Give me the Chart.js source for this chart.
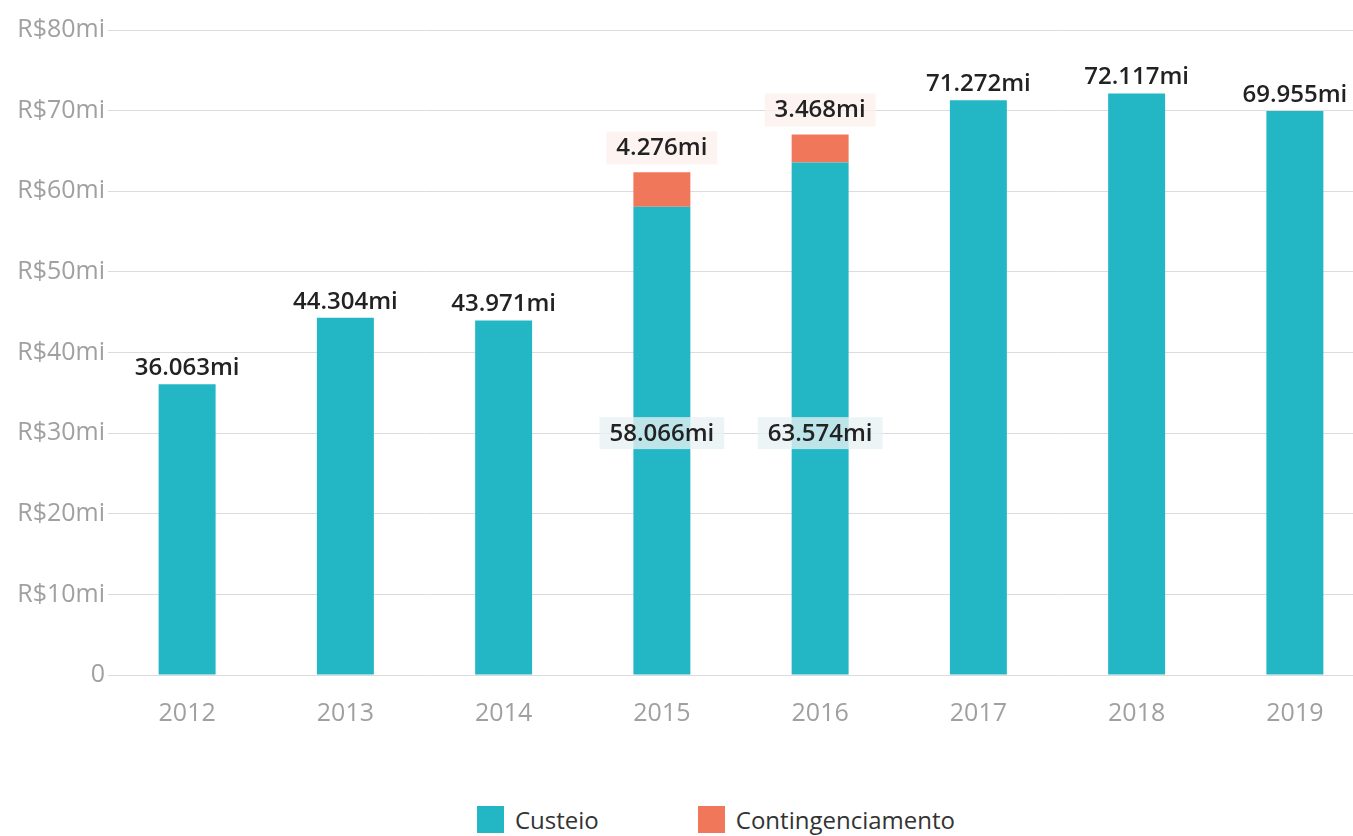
<!DOCTYPE html>
<html>
<head>
<meta charset="utf-8">
<script src="https://cdn.jsdelivr.net/npm/chart.js@4"></script>
<style>
  html, body { margin: 0; padding: 0; background: #fff; overflow: hidden; }
  #wrap { position: relative; width: 1374px; height: 760px; }
  #legend { position: absolute; top: 803px; left: 477px; display: flex; font-family: "Open Sans", sans-serif; font-size: 24px; color: #333; }
  .item { display: flex; align-items: center; margin-right: 99px; }
  .box { width: 27px; height: 27px; margin-right: 11px; }
</style>
</head>
<body>
<div id="wrap"><canvas id="chart"></canvas></div>
<div id="legend"></div>
<script>
const years = ["2012", "2013", "2014", "2015", "2016", "2017", "2018", "2019"];
const custeio = [36.063, 44.304, 43.971, 58.066, 63.574, 71.272, 72.117, 69.955];
const contingenciamento = [0, 0, 0, 4.276, 3.468, 0, 0, 0];
const seriesNames = ["Custeio", "Contingenciamento"];
const colors = ["#23b7c5", "#f07759"];

function fmt(v) {
  return v.toFixed(3) + "mi";
}

// labels on the bars
const barLabels = {
  id: "barLabels",
  afterDatasetsDraw(chart) {
    const ctx = chart.ctx;
    const yScale = chart.scales.y;
    const m0 = chart.getDatasetMeta(0).data;
    const m1 = chart.getDatasetMeta(1).data;
    ctx.save();
    ctx.font = "600 24px 'Open Sans'";
    ctx.textAlign = "center";
    ctx.textBaseline = "middle";
    custeio.forEach((v, i) => {
      const bar = m0[i];
      if (contingenciamento[i] > 0) {
        // custeio label boxed in the middle
        let txt = fmt(v);
        let w = ctx.measureText(txt).width + 20;
        let y = yScale.getPixelForValue(30);
        ctx.fillStyle = "rgba(232,241,244,0.78)";
        ctx.fillRect(bar.x - w / 2, y - 16, w, 32);
        ctx.fillStyle = "#222";
        ctx.fillText(txt, bar.x, y + 1);

        let top = m1[i];
        txt = fmt(contingenciamento[i]);
        w = ctx.measureText(txt).width + 20;
        let by = top.y - 8 - 33;
        ctx.fillStyle = "rgba(252,241,237,0.8)";
        ctx.fillRect(top.x - w / 2, by, w, 33);
        ctx.fillStyle = "#222";
        ctx.fillText(txt, top.x, by + 17);
      } else {
        ctx.fillStyle = "#222";
        ctx.fillText(fmt(v), bar.x, bar.y - 16);
      }
    });
    ctx.restore();
  }
};

const ctx = document.getElementById("chart");
new Chart(ctx, {
  type: "bar",
  data: {
    labels: years,
    datasets: [
      { label: seriesNames[0], data: custeio, backgroundColor: colors[0] },
      { label: seriesNames[1], data: contingenciamento, backgroundColor: colors[1] }
    ]
  },
  options: {
    responsive: true,
    maintainAspectRatio: false,
    animation: false,
    datasets: { bar: { categoryPercentage: 1, barPercentage: 0.36 } },
    layout: { padding: { top: 30, right: 0, bottom: 0, left: 0 } },
    plugins: {
      legend: { display: false },
      tooltip: { enabled: false }
    },
    scales: {
      x: {
        stacked: true,
        grid: { display: false },
        border: { display: false },
        ticks: { color: "#a0a0a0", font: { family: "Open Sans", size: 25 }, padding: 16 },
        afterFit: s => { s.height = 85; }
      },
      y: {
        stacked: true,
        min: 0,
        max: 80,
        grid: { color: "#dcdcdc", drawTicks: false },
        border: { display: false },
        ticks: {
          stepSize: 10,
          padding: 3,
          color: "#a0a0a0",
          font: { family: "Open Sans", size: 25 },
          callback: v => v === 0 ? "0" : "R$" + v + "mi"
        },
        afterFit: s => { s.width = 108; }
      }
    }
  },
  plugins: [barLabels]
});

// legend
document.getElementById("legend").innerHTML = seriesNames.map((n, i) =>
  `<div class="item"><span class="box" style="background:${colors[i]}"></span>${n}</div>`).join("");
</script>
</body>
</html>
